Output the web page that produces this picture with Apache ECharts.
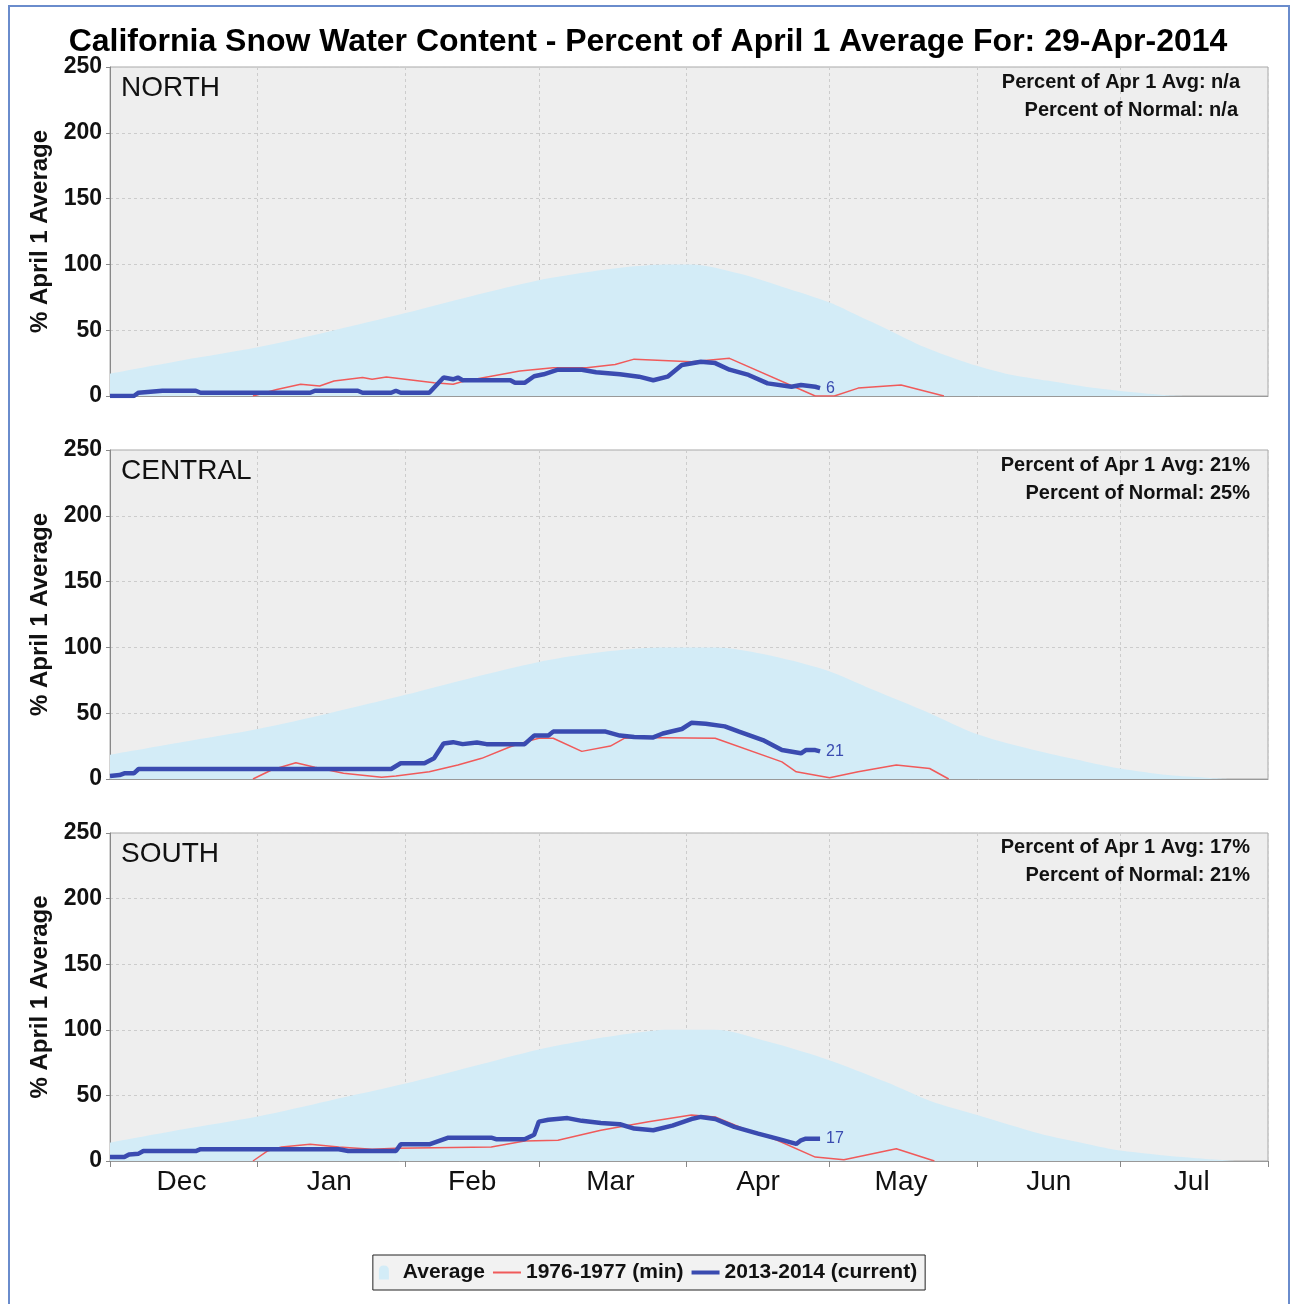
<!DOCTYPE html>
<html><head><meta charset="utf-8">
<script src="https://cdn.jsdelivr.net/npm/echarts@6/dist/echarts.min.js"></script>
<style>
html,body{margin:0;padding:0;background:#fff;}
#frame{position:absolute;left:8px;top:5px;width:1282px;height:1330px;border:2px solid #6a8ccc;box-sizing:border-box;}
#chart{position:absolute;left:0;top:0;width:1296px;height:1304px;}
</style></head><body><div id="frame"></div><div id="chart"></div>
<script>
// ---- axis / labels ----
const monthNames = ['Dec','Jan','Feb','Mar','Apr','May','Jun','Jul'];
const monthDays = [31,31,28,31,30,31,30,31];
const yTicks = [0,50,100,150,200,250];
const regions = ['NORTH','CENTRAL','SOUTH'];
const pctApr1 = ['n/a','21%','17%'];
const pctNormal = ['n/a','25%','21%'];
const titleText = 'California Snow Water Content - Percent of April 1 Average For: 29-Apr-2014';
const seriesNames = ['Average','1976-1977 (min)','2013-2014 (current)'];

// ---- data: [day index from Dec 1, percent] ----
const avgNorth = [[0,17],[15,27],[31,37],[46,49],[62,63],[76,76],[90,88],[100,94],[110,98.5],[117,100],[122,100],[132,93],[141,83],[151,71],[157,61],[163,51],[171,37],[180,25],[188,17],[197,11.5],[205,6.8],[212,3.8],[221,0.8],[226,0]];
const avgCentral = [[0,18.5],[15,28],[31,38],[46,50],[62,64],[76,77],[90,89],[100,95],[110,99],[117,100],[127,100],[137,95],[150,83],[160,68],[172,50],[182,34],[195,21],[205,13],[212,8],[222,3],[230,1],[235,0]];
const avgSouth = [[0,14],[15,24],[31,34],[46,46],[62,59],[76,72],[90,85],[100,92],[110,97.5],[117,100],[127,100],[137,92],[150,78],[163,60],[172,46],[182,35],[195,21],[205,13],[212,8],[225,3],[236,0]];

const minNorth = [[30,0],[35,5],[40,9],[44,7.6],[47,11.4],[53,14],[55,12.7],[58,14.5],[68,10],[72,9],[74,11],[86,19],[93,21.5],[100,21.5],[106,24],[110,28],[122,26],[130,28.6],[148,0],[152,0],[157,6],[166,8.4],[175,0]];
const minCentral = [[30,0],[34,7],[39,12.4],[43,9],[49,4.3],[57,1.3],[60,2.3],[67,5.5],[73,10.6],[78,15.7],[84,24.5],[87,28],[90,31],[93,31],[99,21],[105,25],[108,31],[111,31.6],[127,31],[141,13],[144,5.5],[151,1],[157,5.5],[165,10.6],[172,8],[176,0]];
const minSouth = [[30,0],[33,7.6],[36,10.7],[42,12.7],[48,10.7],[55,9],[60,9.7],[80,10.7],[87,15.3],[94,15.8],[103,23.5],[113,30],[122,35],[127,33.6],[133,24.7],[140,15.8],[148,3],[154,1],[165,9.4],[173,0]];

const curNorth = [[0,0],[5,0],[6,2.5],[11,4],[18,4],[19,2.5],[42,2.5],[43,4],[52,4],[53,2.5],[59,2.5],[60,4],[61,2.5],[67,2.5],[70,14],[72,12.7],[73,14],[74,12],[84,12],[85,10],[87,10],[89,15],[91,16.5],[94,20],[99,20],[102,18],[107,16.5],[111,14.7],[114,12],[117,14.7],[120,23.5],[124,26],[127,25],[130,20],[134,16],[138,9.6],[143,7],[145,8.4],[148,7],[149,6]];
const curCentral = [[0,2.3],[2,3],[3,4.3],[5,4.3],[6,7.6],[59,7.6],[61,12],[66,12],[68,15.7],[70,27],[72,28],[74,26.5],[77,27.8],[79,26.5],[87,26.5],[89,33],[92,33],[93,36],[104,36],[107,33],[110,32],[114,31.6],[116,34.6],[120,38],[122,42.7],[125,42],[129,40],[132,36],[137,29.6],[141,22],[145,19.5],[146,22],[148,22],[149,21]];
const curSouth = [[0,3],[3,3],[4,5],[6,5.6],[7,7.6],[18,7.6],[19,9],[48,9],[50,7.6],[60,7.6],[61,12.7],[67,12.7],[71,17.8],[80,17.8],[81,16.6],[87,16.6],[89,20],[90,30],[92,31.4],[96,32.7],[99,30.6],[103,29],[107,28],[110,24.7],[114,23.4],[118,27],[122,32],[124,33.6],[127,32],[131,26],[136,20.9],[140,17],[144,13],[145,15.8],[146,17],[149,17]];

const avgData = [avgNorth, avgCentral, avgSouth];
const minData = [minNorth, minCentral, minSouth];
const curData = [curNorth, curCentral, curSouth];

// ---- build daily categories ----
const dayCats = [];
const monthStart = new Set();
const monthMid = {};
let idx = 0;
monthNames.forEach((m, k) => {
  monthStart.add(idx);
  monthMid[idx + Math.floor(monthDays[k] / 2)] = m;
  for (let d = 1; d <= monthDays[k]; d++) dayCats.push(m + ' ' + d);
  idx += monthDays[k];
});
dayCats.push('Aug 1');
monthStart.add(idx);

const FONT = "'Liberation Sans', Arial, Helvetica, sans-serif";
const gridTops = [67, 450, 833];
const gridH = [329, 329, 328];
const blue = '#3a4bb0', red = '#f05a5a', fill = '#d3ecf7';

const grids = [], xAxes = [], yAxes = [], series = [];
const titles = [{
  text: titleText, left: 'center', top: 21,
  textStyle: {fontFamily: FONT, fontSize: 32, fontWeight: 'bold', color: '#000'}
}];
const infoRight = [[51, 53], [41, 41], [41, 41]];
const labelTops = [69, 452, 835];
const infoTops = [67, 450, 832];

for (let i = 0; i < 3; i++) {
  grids.push({left: 110, right: 28, top: gridTops[i], height: gridH[i], show: true,
    backgroundColor: '#eeeeee', borderColor: '#a8a8a8', borderWidth: 1});
  const last = i === 2;
  xAxes.push({
    type: 'category', gridIndex: i, data: dayCats, boundaryGap: false,
    axisLine: {show: true, lineStyle: {color: '#999', width: 1}},
    axisTick: {show: last, length: 6, interval: (n) => monthStart.has(n), lineStyle: {color: '#888'}},
    axisLabel: {show: last, interval: (n) => monthMid[n] !== undefined,
      formatter: (v, n) => monthMid[n] || '', fontFamily: FONT, fontSize: 28, color: '#111', margin: 7},
    splitLine: {show: true, interval: (n) => monthStart.has(n), lineStyle: {color: '#cccccc', type: [3, 3]}}
  });
  yAxes.push({
    type: 'value', gridIndex: i, min: yTicks[0], max: yTicks[yTicks.length - 1], interval: 50,
    name: '% April 1 Average', nameLocation: 'middle', nameRotate: 90, nameGap: 58,
    nameTextStyle: {fontFamily: FONT, fontSize: 24, fontWeight: 'bold', color: '#111'},
    axisLine: {show: true, lineStyle: {color: '#888'}},
    axisTick: {show: true, length: 4, lineStyle: {color: '#888'}},
    axisLabel: {fontFamily: FONT, fontSize: 23, fontWeight: 'bold', color: '#111', margin: 8},
    splitLine: {show: true, lineStyle: {color: '#cccccc', type: [3, 3]}}
  });
  series.push({
    name: seriesNames[0], type: 'line', xAxisIndex: i, yAxisIndex: i, data: avgData[i],
    smooth: 0.3, symbol: 'none', lineStyle: {width: 0, color: fill},
    itemStyle: {color: fill}, areaStyle: {color: fill, opacity: 1}, z: 1, silent: true
  });
  series.push({
    name: seriesNames[1], type: 'line', xAxisIndex: i, yAxisIndex: i, data: minData[i],
    symbol: 'none', lineStyle: {width: 1.5, color: red}, itemStyle: {color: red}, z: 3, silent: true
  });
  series.push({
    name: seriesNames[2], type: 'line', xAxisIndex: i, yAxisIndex: i, data: curData[i],
    symbol: 'none', lineStyle: {width: 4.5, color: blue}, itemStyle: {color: blue}, z: 4, silent: true,
    endLabel: {show: true, formatter: (p) => String(p.value[1]), color: blue,
      fontFamily: FONT, fontSize: 16, distance: 6}
  });
  titles.push({text: regions[i], left: 116, top: labelTops[i],
    textStyle: {fontFamily: FONT, fontSize: 28, fontWeight: 'normal', color: '#111'}});
  titles.push({text: 'Percent of Apr 1 Avg: ' + pctApr1[i], right: infoRight[i][0], top: infoTops[i],
    textStyle: {fontFamily: FONT, fontSize: 20, fontWeight: 'bold', color: '#111'}});
  titles.push({text: 'Percent of Normal: ' + pctNormal[i], right: infoRight[i][1], top: infoTops[i] + 28,
    textStyle: {fontFamily: FONT, fontSize: 20, fontWeight: 'bold', color: '#111'}});
}

const chart = echarts.init(document.getElementById('chart'), null, {renderer: 'canvas'});
chart.setOption({
  backgroundColor: 'transparent',
  animation: false,
  title: titles,
  legend: {
    data: [
      {name: seriesNames[0], icon: 'path://M0,5 Q0,0 5,0 Q10,0 10,5 L10,14 L0,14 Z'},
      {name: seriesNames[1], icon: 'path://M0,0 L28,0 L28,2 L0,2 Z'},
      {name: seriesNames[2], icon: 'path://M0,0 L28,0 L28,4 L0,4 Z'}
    ],
    bottom: 14, left: 'center', orient: 'horizontal',
    backgroundColor: '#f2f2f2', borderColor: '#222', borderWidth: 1, borderRadius: 0,
    padding: [7, 8, 7, 6], itemGap: 8, itemWidth: 28, itemHeight: 14,
    textStyle: {fontFamily: FONT, fontSize: 21, fontWeight: 'bold', color: '#111'}
  },
  grid: grids, xAxis: xAxes, yAxis: yAxes, series: series
});
</script></body></html>
